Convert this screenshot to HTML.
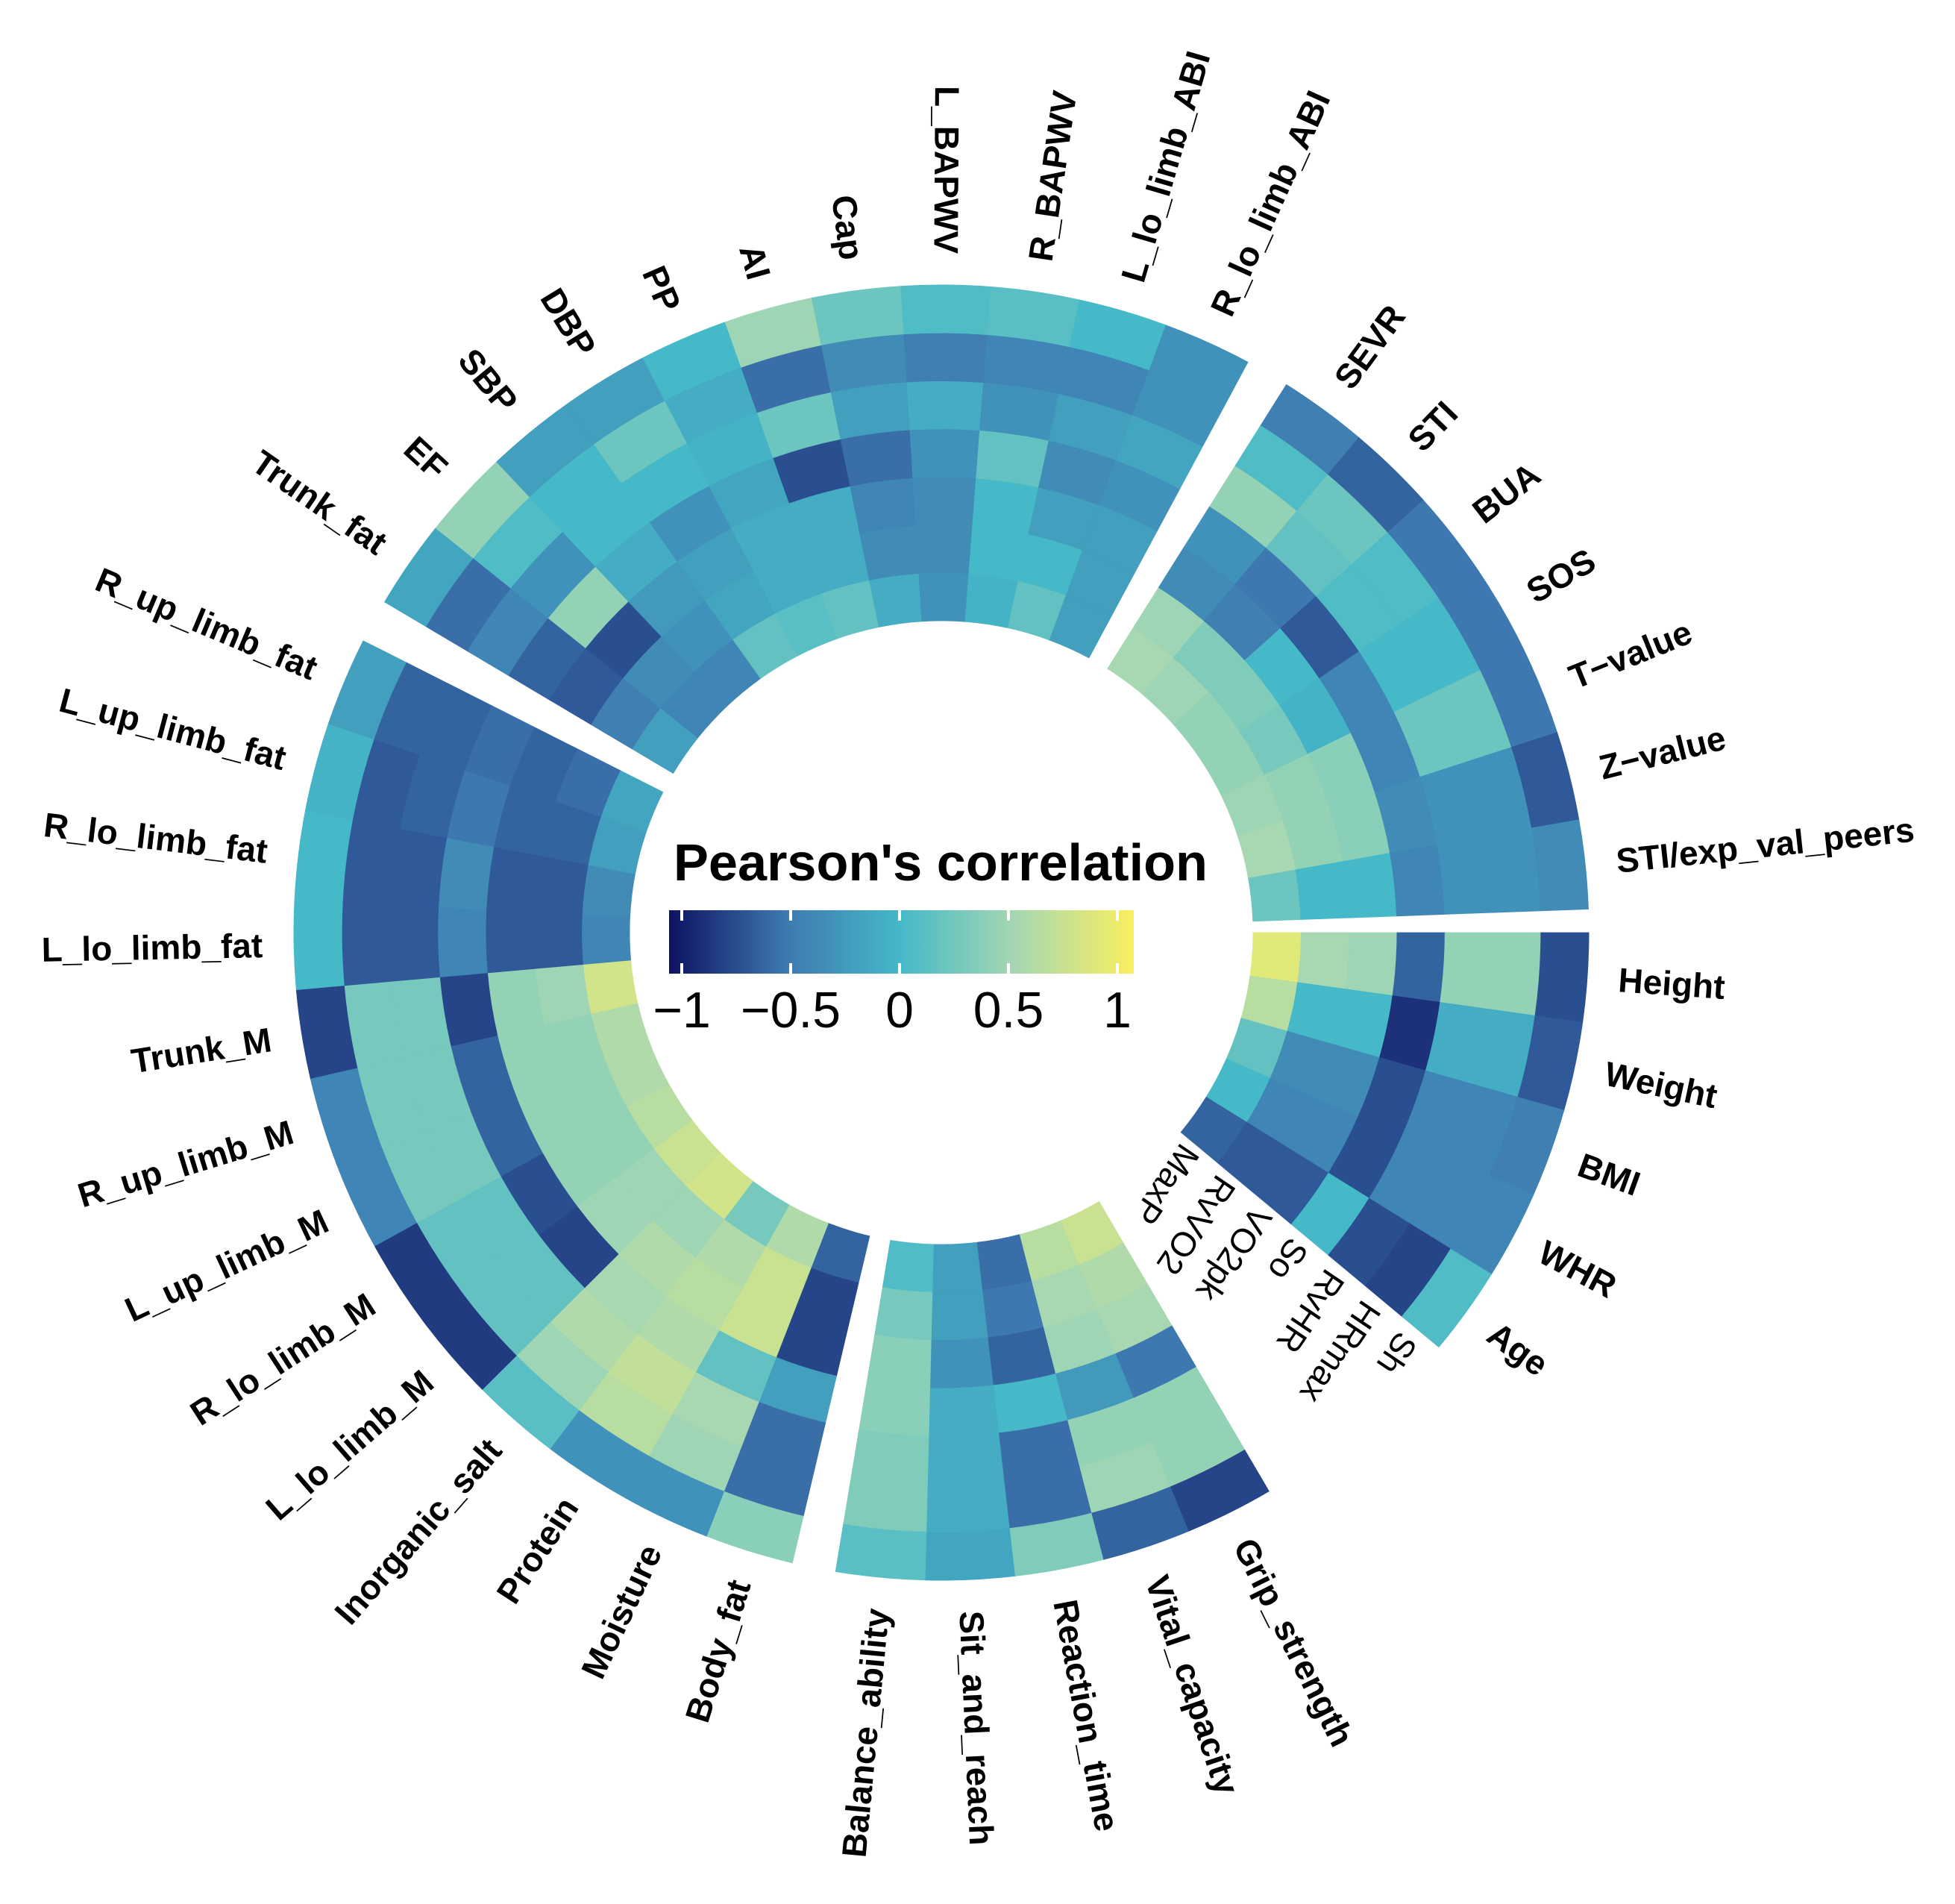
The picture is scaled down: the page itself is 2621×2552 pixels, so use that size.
<!DOCTYPE html>
<html><head><meta charset="utf-8">
<style>
html,body{margin:0;padding:0;background:#fff;}
svg{display:block;}
text{font-family:"Liberation Sans",Arial,sans-serif;}
</style></head>
<body>
<svg id="s" width="2621" height="2552" viewBox="0 0 2621 2552" xmlns="http://www.w3.org/2000/svg">
<defs>
<linearGradient id="g" x1="0" x2="1" y1="0" y2="0">
<stop offset="0" stop-color="#0d1262"/>
<stop offset="0.25" stop-color="#3e78b0"/>
<stop offset="0.5" stop-color="#45b9c8"/>
<stop offset="0.75" stop-color="#a8d8b0"/>
<stop offset="1" stop-color="#faef5f"/>
</linearGradient>
</defs>
<g id="cells"></g>
<g id="labels" font-weight="bold" font-size="46" fill="#000"></g>
<g id="rl" font-size="46" fill="#000"></g>
<text x="903" y="1180" font-size="70" font-weight="bold" textLength="716" lengthAdjust="spacingAndGlyphs">Pearson's correlation</text>
<rect x="897" y="1220" width="623" height="85" fill="url(#g)"/>
<g stroke="#fff" stroke-width="4">
<line x1="914" y1="1220" x2="914" y2="1234"/><line x1="914" y1="1291" x2="914" y2="1305"/>
<line x1="1060" y1="1220" x2="1060" y2="1234"/><line x1="1060" y1="1291" x2="1060" y2="1305"/>
<line x1="1206" y1="1220" x2="1206" y2="1234"/><line x1="1206" y1="1291" x2="1206" y2="1305"/>
<line x1="1352" y1="1220" x2="1352" y2="1234"/><line x1="1352" y1="1291" x2="1352" y2="1305"/>
<line x1="1498" y1="1220" x2="1498" y2="1234"/><line x1="1498" y1="1291" x2="1498" y2="1305"/>
</g>
<g font-size="68" text-anchor="middle" fill="#000">
<text x="914" y="1377">−1</text>
<text x="1060" y="1377">−0.5</text>
<text x="1206" y="1377">0</text>
<text x="1352" y="1377">0.5</text>
<text x="1498" y="1377">1</text>
</g>
</svg>
<script>
var cx=1262,cy=1250,r0=418,rw=64.3,w=7.96;
var sectors=[
 {start:0,items:[
  ["Height",[0.85,0.5,0.45,-0.6,0.4,0.4,-0.7]],
  ["Weight",[0.6,0.0,0.0,-0.85,-0.1,-0.1,-0.65]],
  ["BMI",[0.15,-0.35,-0.35,-0.7,-0.4,-0.4,-0.45]],
  ["WHR",[0.0,-0.4,-0.4,-0.7,-0.4,-0.4,-0.4]],
  ["Age",[-0.6,-0.65,-0.65,0.0,-0.7,-0.75,0.05]]]},
 {start:59.6,items:[
  ["Grip_strength",[0.7,0.55,0.5,-0.5,0.4,0.4,-0.75]],
  ["Vital_capacity",[0.6,0.5,0.45,-0.25,0.4,0.45,-0.6]],
  ["Reaction_time",[-0.55,-0.5,-0.6,0.0,-0.55,-0.55,0.3]],
  ["Sit_and_reach",[-0.2,-0.2,-0.3,-0.1,-0.1,-0.1,-0.15]],
  ["Balance_ability",[0.05,0.25,0.35,0.35,0.3,0.3,0.1]]]},
 {start:103.3,items:[
  ["Body_fat",[-0.6,-0.75,-0.75,-0.2,-0.55,-0.55,0.35]],
  ["Moisture",[0.55,0.7,0.7,0.15,0.5,0.45,-0.3]],
  ["Protein",[0.25,0.55,0.6,0.55,0.65,0.6,-0.3]],
  ["Inorganic_salt",[0.75,0.45,0.55,0.5,0.55,0.45,0.1]],
  ["L_lo_limb_M",[0.7,0.45,0.45,-0.75,0.15,0.15,-0.8]],
  ["R_lo_limb_M",[0.6,0.4,0.4,-0.7,0.15,0.15,-0.8]],
  ["L_up_limb_M",[0.55,0.4,0.4,-0.6,0.25,0.25,-0.4]],
  ["R_up_limb_M",[0.55,0.4,0.4,-0.6,0.25,0.25,-0.4]],
  ["Trunk_M",[0.75,0.45,0.4,-0.75,0.25,0.25,-0.75]],
  ["L_lo_limb_fat",[-0.4,-0.65,-0.65,-0.4,-0.65,-0.65,0.0]],
  ["R_lo_limb_fat",[-0.35,-0.65,-0.65,-0.35,-0.65,-0.65,0.0]],
  ["L_up_limb_fat",[-0.2,-0.6,-0.6,-0.5,-0.6,-0.65,-0.05]],
  ["R_up_limb_fat",[-0.15,-0.55,-0.6,-0.55,-0.6,-0.6,-0.2]]]},
 {start:210.7,items:[
  ["Trunk_fat",[-0.2,-0.45,-0.65,-0.6,-0.4,-0.55,-0.15]],
  ["EF",[-0.4,-0.35,-0.7,0.4,-0.3,0.05,0.4]],
  ["SBP",[-0.4,-0.3,-0.25,-0.1,0.0,0.0,-0.2]],
  ["DBP",[0.15,-0.15,-0.2,-0.3,0.0,0.2,-0.2]],
  ["PP",[0.1,-0.1,-0.1,-0.15,-0.05,-0.1,0.0]],
  ["AI",[0.15,-0.1,-0.1,-0.7,0.2,-0.55,0.45]],
  ["Cap",[-0.1,-0.35,-0.4,-0.55,-0.2,-0.35,0.2]],
  ["L_BAPWV",[-0.3,-0.35,-0.35,-0.3,-0.1,-0.45,0.05]],
  ["R_BAPWV",[-0.05,0.0,0.0,0.15,-0.3,-0.4,0.1]],
  ["L_lo_limb_ABI",[0.15,0.0,-0.2,-0.35,-0.2,-0.4,0.0]],
  ["R_lo_limb_ABI",[-0.2,-0.2,-0.2,-0.3,-0.15,-0.3,-0.3]]]},
 {start:302.2,items:[
  ["SEVR",[0.5,0.45,-0.35,-0.3,0.4,0.05,-0.45]],
  ["STI",[0.45,0.3,-0.45,-0.5,0.15,0.2,-0.6]],
  ["BUA",[0.4,0.3,0.0,-0.65,0.05,0.05,-0.5]],
  ["SOS",[0.4,0.25,-0.05,-0.4,0.0,0.0,-0.5]],
  ["T\u2212value",[0.45,0.4,0.35,-0.4,0.2,0.2,-0.5]],
  ["Z\u2212value",[0.5,0.4,0.35,-0.35,-0.3,-0.3,-0.65]],
  ["STI/exp_val_peers",[0.2,0.0,0.0,-0.4,-0.3,-0.3,-0.35]]]}
];
var stops=[[-1,[13,18,98]],[-0.5,[62,120,176]],[0,[69,185,200]],[0.5,[168,216,178]],[1,[250,240,95]]];
function col(v){for(var i=0;i<stops.length-1;i++){var a=stops[i],b=stops[i+1];if(v<=b[0]){var t=(v-a[0])/(b[0]-a[0]);var c=[0,1,2].map(function(k){return Math.round(a[1][k]+(b[1][k]-a[1][k])*t)});return "rgb("+c.join(",")+")";}}return "rgb(250,240,95)";}
function P(r,a){a=a*Math.PI/180;return (cx+r*Math.cos(a)).toFixed(2)+","+(cy+r*Math.sin(a)).toFixed(2);}
var NS="http://www.w3.org/2000/svg";
var cg=document.getElementById("cells"),lg=document.getElementById("labels"),rl=document.getElementById("rl");
sectors.forEach(function(s){s.items.forEach(function(it,j){
 var a1=s.start+j*w,a2=a1+w;
 for(var k=0;k<7;k++){var ri=r0+k*rw,ro=ri+rw;
  var p=document.createElementNS(NS,"path");
  p.setAttribute("d","M"+P(ri,a1)+" L"+P(ro,a1)+" A"+ro+","+ro+" 0 0 1 "+P(ro,a2)+" L"+P(ri,a2)+" A"+ri+","+ri+" 0 0 0 "+P(ri,a1)+"Z");
  var c=col(it[1][k]);p.setAttribute("fill",c);p.setAttribute("stroke",c);p.setAttribute("stroke-width","0.8");
  cg.appendChild(p);}
 var am=a1+w/2;var n=((am+180)%360+360)%360-180;
 var t=document.createElementNS(NS,"text");t.textContent=it[0];
 var xy=P(910,am).split(",");t.setAttribute("x",xy[0]);t.setAttribute("y",xy[1]);
 t.setAttribute("dominant-baseline","central");
 if(n>-89&&n<=90){t.setAttribute("text-anchor","start");t.setAttribute("transform","rotate("+n+" "+xy[0]+" "+xy[1]+")");}
 else{t.setAttribute("text-anchor","end");t.setAttribute("transform","rotate("+(n+180)+" "+xy[0]+" "+xy[1]+")");}
 lg.appendChild(t);
});});
["MaxP","RvVO2","VO2pk","So","RvHR","HRmax","Sh"].forEach(function(nm,k){
 var r=r0+rw*(k+0.5)-8;var xy=P(r,40.8).split(",");
 var t=document.createElementNS(NS,"text");t.textContent=nm;
 t.setAttribute("x",xy[0]);t.setAttribute("y",xy[1]);t.setAttribute("dominant-baseline","central");
 t.setAttribute("transform","rotate(124 "+xy[0]+" "+xy[1]+")");rl.appendChild(t);
});
</script>
</body></html>
